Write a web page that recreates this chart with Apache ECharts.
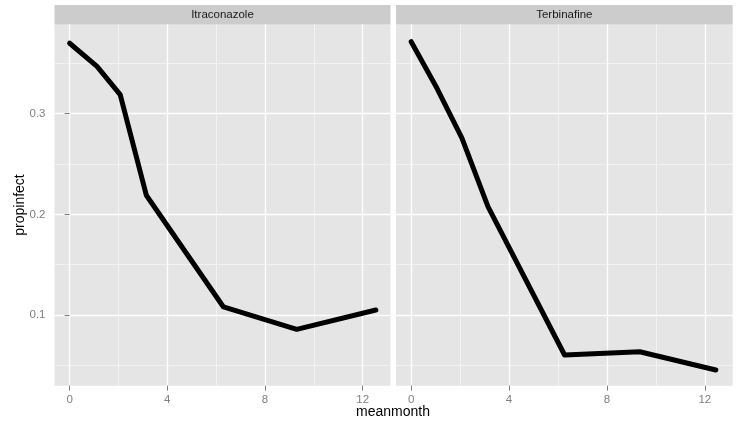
<!DOCTYPE html>
<html><head><meta charset="utf-8">
<script src="https://cdn.jsdelivr.net/npm/echarts@6/dist/echarts.min.js"></script>
<style>html,body{margin:0;padding:0;background:#fff}#c{width:738px;height:423px}</style>
</head><body><div id="c"></div>
<script>
const panels = ['Itraconazole', 'Terbinafine'];
const itraX = [0, 1.12, 2.07, 3.14, 6.3, 9.3, 12.54];
const itraY = [0.370, 0.347, 0.319, 0.219, 0.108, 0.0858, 0.105];
const terbX = [0, 1.05, 2.07, 3.14, 6.27, 9.34, 12.45];
const terbY = [0.3715, 0.3255, 0.276, 0.2076, 0.0603, 0.0635, 0.0454];
const xMajor = [0, 4, 8, 12];
const xMinor = [2, 6, 10];
const yMajor = [0.1, 0.2, 0.3];
const yMinor = [0.05, 0.15, 0.25, 0.35];
const xRange = [-0.62, 13.14];
const yRange = [0.0298, 0.3886];

const FONT = '"Liberation Sans", Arial, sans-serif';
const grids = [
  {left: 54.5, top: 24.5, width: 336, height: 361.2},
  {left: 396, top: 24.5, width: 336.7, height: 361.2}
];
const xAxes = [], yAxes = [], series = [];
grids.forEach((g, i) => {
  g.show = true; g.backgroundColor = '#e5e5e5'; g.borderWidth = 0;
  xAxes.push({type: 'value', gridIndex: i, position: 'bottom', min: xRange[0], max: xRange[1],
    axisLine: {show: false}, axisLabel: {show: false},
    axisTick: {show: false, customValues: xMinor},
    splitLine: {show: true, lineStyle: {color: '#f2f2f2', width: 1}}, z: 0});
  xAxes.push({type: 'value', gridIndex: i, position: 'bottom', min: xRange[0], max: xRange[1],
    axisLine: {show: false},
    axisTick: {show: true, customValues: xMajor, length: 5, lineStyle: {color: '#7f7f7f'}},
    axisLabel: {show: true, customValues: xMajor, color: '#7f7f7f', fontSize: 11.5, fontFamily: FONT, margin: 8},
    splitLine: {show: true, lineStyle: {color: '#ffffff', width: 1.3}}, z: 1});
  yAxes.push({type: 'value', gridIndex: i, position: 'left', min: yRange[0], max: yRange[1],
    axisLine: {show: false}, axisLabel: {show: false},
    axisTick: {show: false, customValues: yMinor},
    splitLine: {show: true, lineStyle: {color: '#f2f2f2', width: 1}}, z: 0});
  yAxes.push({type: 'value', gridIndex: i, position: 'left', min: yRange[0], max: yRange[1],
    axisLine: {show: false},
    axisTick: {show: i === 0, customValues: yMajor, length: 5, lineStyle: {color: '#7f7f7f'}},
    axisLabel: {show: i === 0, customValues: yMajor, color: '#7f7f7f', fontSize: 11.5, fontFamily: FONT, margin: 9,
      formatter: v => v.toFixed(1)},
    splitLine: {show: true, lineStyle: {color: '#ffffff', width: 1.3}}, z: 1});
});
const dataSets = [[itraX, itraY], [terbX, terbY]];
dataSets.forEach((d, i) => {
  series.push({type: 'line', xAxisIndex: i * 2 + 1, yAxisIndex: i * 2 + 1,
    data: d[0].map((x, k) => [x, d[1][k]]), showSymbol: false, symbol: 'none',
    lineStyle: {color: '#000', width: 5, cap: 'round', join: 'round'}, z: 5, animation: false});
});
const graphics = [];
grids.forEach((g, i) => {
  graphics.push({type: 'rect', shape: {x: g.left, y: 5, width: g.width, height: 19.5}, style: {fill: '#cccccc'}});
  graphics.push({type: 'text', x: g.left + g.width / 2, y: 15, style: {text: panels[i], fill: '#1a1a1a',
    font: '11.5px ' + FONT, align: 'center', verticalAlign: 'middle'}});
});
graphics.push({type: 'text', x: 393, y: 412, style: {text: 'meanmonth', fill: '#000', font: '14px ' + FONT, align: 'center', verticalAlign: 'middle'}});
graphics.push({type: 'text', x: 20, y: 205, rotation: Math.PI / 2, style: {text: 'propinfect', fill: '#000', font: '14px ' + FONT, align: 'center', verticalAlign: 'middle'}});

const chart = echarts.init(document.getElementById('c'), null, {renderer: 'canvas'});
chart.setOption({animation: false, grid: grids, xAxis: xAxes, yAxis: yAxes, series: series, graphic: graphics});
</script></body></html>
